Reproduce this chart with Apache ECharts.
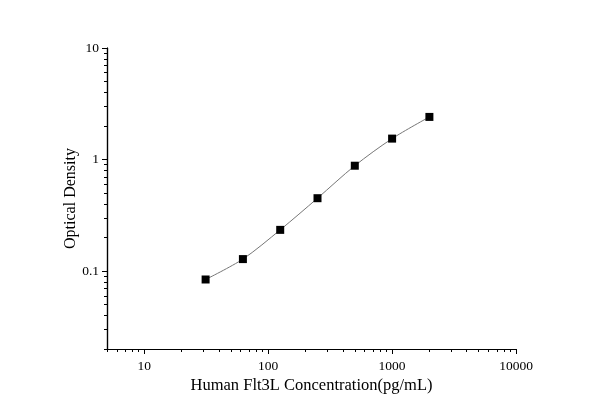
<!DOCTYPE html>
<html>
<head>
<meta charset="utf-8">
<script src="https://cdn.jsdelivr.net/npm/echarts@6/dist/echarts.min.js"></script>
<style>
  html, body { margin: 0; padding: 0; background: #fff; }
  #chart { width: 600px; height: 419px; }
</style>
</head>
<body>
<div id="chart"></div>
<script>
// 标准曲线数据
const concentration = [31.25, 62.5, 125, 250, 500, 1000, 2000]
const density = [0.084, 0.128, 0.234, 0.45, 0.88, 1.54, 2.41]

// 刻度
const xMajor = [10, 100, 1000, 10000]
const yMajor = [0.1, 1, 10]
const xMinor = [5, 6, 7, 8, 9, 20, 30, 40, 50, 60, 70, 80, 90, 200, 300, 400, 500, 600, 700, 800, 900, 2000, 3000, 4000, 5000, 6000, 7000, 8000, 9000]
const yMinor = [0.02, 0.03, 0.04, 0.05, 0.06, 0.07, 0.08, 0.09, 0.2, 0.3, 0.4, 0.5, 0.6, 0.7, 0.8, 0.9, 2, 3, 4, 5, 6, 7, 8, 9]

const font = 'Liberation Serif, Times New Roman, serif'
const axisColor = '#000'

function baseAxis (min, max) {
  return {
    type: 'log',
    logBase: 10,
    min: min,
    max: max,
    splitLine: { show: false },
    axisLine: { show: true, onZero: false, lineStyle: { color: axisColor, width: 1.2 } }
  }
}

let chartDom = document.getElementById('chart')
let myChart = echarts.init(chartDom, null, { renderer: 'canvas' })

let option = {
  animation: false,
  backgroundColor: '#fff',
  grid: { left: 107, right: 84, top: 48, bottom: 70, containLabel: false },
  xAxis: [
    Object.assign(baseAxis(5, 10000), {
      position: 'bottom',
      name: 'Human Flt3L Concentration(pg/mL)',
      nameLocation: 'middle',
      nameGap: 28,
      nameMoveOverlap: false,
      nameTextStyle: { fontFamily: font, fontSize: 16.5, color: '#000' },
      axisTick: { show: true, inside: false, length: 5, customValues: xMajor, lineStyle: { color: axisColor } },
      axisLabel: { show: true, margin: 10, customValues: xMajor, fontFamily: font, fontSize: 13.5, color: '#000',
        formatter: v => String(v) }
    }),
    Object.assign(baseAxis(5, 10000), {
      position: 'bottom',
      axisTick: { show: true, inside: false, length: 3, customValues: xMinor, lineStyle: { color: axisColor } },
      axisLabel: { show: false }
    })
  ],
  yAxis: [
    Object.assign(baseAxis(0.02, 10), {
      position: 'left',
      name: 'Optical Density',
      nameLocation: 'middle',
      nameGap: 28,
      nameMoveOverlap: false,
      nameRotate: 90,
      nameTextStyle: { fontFamily: font, fontSize: 16, color: '#000' },
      axisTick: { show: true, inside: false, length: 5, customValues: yMajor, lineStyle: { color: axisColor } },
      axisLabel: { show: true, margin: 8, customValues: yMajor, fontFamily: font, fontSize: 13.5, color: '#000',
        formatter: v => String(v) }
    }),
    Object.assign(baseAxis(0.02, 10), {
      position: 'left',
      axisTick: { show: true, inside: false, length: 3, customValues: yMinor, lineStyle: { color: axisColor } },
      axisLabel: { show: false }
    })
  ],
  series: [
    {
      type: 'line',
      xAxisIndex: 0,
      yAxisIndex: 0,
      data: concentration.map((c, i) => [c, density[i]]),
      smooth: 0.3,
      symbol: 'rect',
      symbolSize: 8,
      itemStyle: { color: '#000' },
      lineStyle: { color: '#777', width: 1 }
    }
  ]
}
myChart.setOption(option)
</script>
</body>
</html>
